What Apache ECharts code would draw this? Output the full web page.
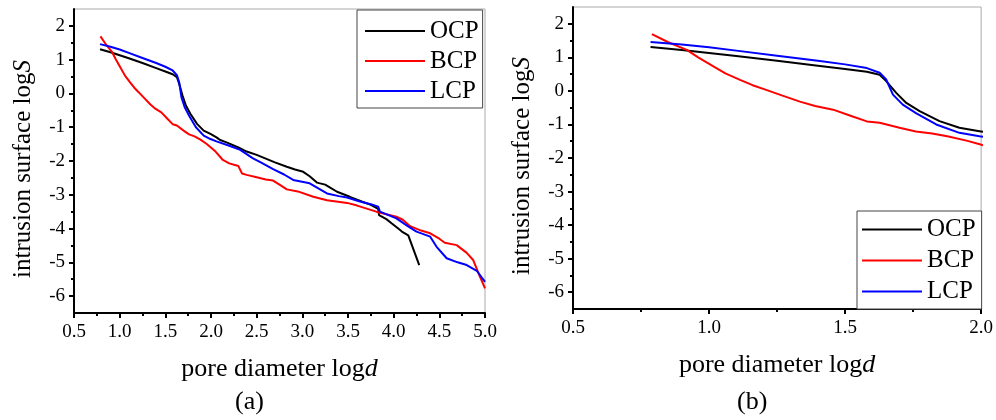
<!DOCTYPE html>
<html>
<head>
<meta charset="utf-8">
<script src="https://cdn.jsdelivr.net/npm/echarts@6/dist/echarts.min.js"></script>
<style>html,body{margin:0;padding:0;background:#fff;}#c{width:996px;height:420px;}</style>
</head>
<body>
<div id="c"></div>
<script>
// ---- data (x = log d, y = log S) ----
const ocpData = [[0.785,1.31],[0.9,1.22],[1.0,1.13],[1.1,1.04],[1.25,0.90],[1.4,0.75],[1.5,0.65],[1.58,0.57],[1.627,0.48],[1.651,0.29],[1.688,-0.06],[1.725,-0.36],[1.774,-0.6],[1.847,-0.9],[1.92,-1.1],[1.994,-1.2],[2.06,-1.3],[2.1,-1.38],[2.17,-1.45],[2.3,-1.6],[2.39,-1.72],[2.5,-1.82],[2.6,-1.93],[2.7,-2.04],[2.83,-2.17],[2.92,-2.25],[3.01,-2.32],[3.08,-2.45],[3.16,-2.64],[3.25,-2.7],[3.3,-2.78],[3.38,-2.91],[3.52,-3.06],[3.65,-3.2],[3.75,-3.3],[3.83,-3.42],[3.84,-3.6],[3.92,-3.72],[3.98,-3.85],[4.05,-4.0],[4.09,-4.09],[4.16,-4.2],[4.28,-5.08]];
const bcpData = [[0.79,1.69],[0.85,1.45],[0.918,1.22],[0.96,1.0],[1.016,0.73],[1.06,0.52],[1.114,0.33],[1.16,0.17],[1.21,0.03],[1.27,-0.14],[1.334,-0.32],[1.39,-0.45],[1.456,-0.56],[1.52,-0.74],[1.58,-0.91],[1.627,-0.95],[1.7,-1.1],[1.76,-1.21],[1.82,-1.27],[1.88,-1.36],[1.95,-1.49],[1.995,-1.59],[2.05,-1.72],[2.13,-1.97],[2.2,-2.07],[2.3,-2.15],[2.34,-2.37],[2.39,-2.41],[2.5,-2.48],[2.6,-2.55],[2.68,-2.58],[2.75,-2.7],[2.83,-2.84],[2.95,-2.9],[3.12,-3.06],[3.27,-3.16],[3.49,-3.24],[3.6,-3.32],[3.81,-3.5],[4.03,-3.65],[4.1,-3.74],[4.18,-3.93],[4.3,-4.06],[4.4,-4.14],[4.5,-4.3],[4.56,-4.42],[4.69,-4.49],[4.8,-4.72],[4.87,-4.93],[4.93,-5.33],[5.0,-5.77]];
const lcpData = [[0.785,1.46],[0.9,1.38],[1.0,1.30],[1.1,1.2],[1.25,1.05],[1.4,0.9],[1.5,0.79],[1.58,0.68],[1.627,0.54],[1.651,0.34],[1.676,-0.11],[1.712,-0.41],[1.762,-0.67],[1.835,-1.0],[1.92,-1.25],[1.994,-1.35],[2.06,-1.42],[2.2,-1.55],[2.32,-1.67],[2.46,-1.92],[2.55,-2.05],[2.68,-2.24],[2.8,-2.4],[2.9,-2.56],[3.08,-2.66],[3.18,-2.82],[3.27,-2.96],[3.4,-3.04],[3.49,-3.08],[3.63,-3.2],[3.75,-3.28],[3.83,-3.35],[3.85,-3.5],[4.03,-3.7],[4.15,-3.92],[4.25,-4.09],[4.4,-4.24],[4.47,-4.54],[4.58,-4.88],[4.7,-5.0],[4.8,-5.08],[4.91,-5.25],[5.0,-5.58]];

const seriesNames = ['OCP','BCP','LCP'];
const seriesColors = ['#000000','#ff0000','#0000ff'];

const xTicksA = [0.5,1.0,1.5,2.0,2.5,3.0,3.5,4.0,4.5,5.0];
const xMinorA = [0.75,1.25,1.75,2.25,2.75,3.25,3.75,4.25,4.75];
const xTicksB = [0.5,1.0,1.5,2.0];
const xMinorB = [0.75,1.25,1.75];
const yTicks = [-6,-5,-4,-3,-2,-1,0,1,2];
const yMinor = [-5.5,-4.5,-3.5,-2.5,-1.5,-0.5,0.5,1.5];

const xTitle = 'pore diameter log{i|d}';
const yTitle = 'intrusion surface log{i|S}';
const panelLabels = ['(a)','(b)'];

// ---- styling ----
const FONT = 'Liberation Serif';
const grids = [
  {left:74, top:9, width:411, height:304, show:true, borderColor:'#aaaaaa', borderWidth:1, backgroundColor:'#fff'},
  {left:573, top:7, width:409, height:302, show:true, borderColor:'#aaaaaa', borderWidth:1, backgroundColor:'#fff'}
];
const xRanges = [[0.5,5.0],[0.5,2.0]];
const xTickSets = [xTicksA, xTicksB];
const xMinorSets = [xMinorA, xMinorB];

const richName = {i:{fontStyle:'italic', fontFamily:FONT, fontSize:26, color:'#000'}};
const richNameY = {i:{fontStyle:'italic', fontFamily:FONT, fontSize:25, color:'#000'}};

const xAxes = [], yAxes = [];
for (let g = 0; g < 2; g++) {
  xAxes.push({
    type:'value', gridIndex:g, position:'bottom', min:xRanges[g][0], max:xRanges[g][1],
    name:xTitle, nameLocation:'middle', nameGap:43,
    nameTextStyle:{fontFamily:FONT, fontSize:26, color:'#000', rich:richName},
    axisLine:{show:true, onZero:false, lineStyle:{color:'#000', width:2}},
    axisTick:{show:true, customValues:xTickSets[g], length:5, lineStyle:{color:'#000', width:2}},
    axisLabel:{show:true, customValues:xTickSets[g], margin:10, fontFamily:FONT, fontSize:19, color:'#000',
      formatter:v => Number(v).toFixed(1)},
    splitLine:{show:false}
  });
  xAxes.push({
    type:'value', gridIndex:g, position:'bottom', min:xRanges[g][0], max:xRanges[g][1],
    axisLine:{show:false, onZero:false},
    axisTick:{show:true, customValues:xMinorSets[g], length:3, lineStyle:{color:'#000', width:2}},
    axisLabel:{show:false}, splitLine:{show:false}
  });
  yAxes.push({
    type:'value', gridIndex:g, position:'left', min:-6.5, max:2.5,
    name:yTitle, nameLocation:'middle', nameGap:38,
    nameTextStyle:{fontFamily:FONT, fontSize:25, color:'#000', rich:richNameY, padding:[0,16,0,0]},
    axisLine:{show:true, onZero:false, lineStyle:{color:'#000', width:2}},
    axisTick:{show:true, customValues:yTicks, length:5, lineStyle:{color:'#000', width:2}},
    axisLabel:{show:true, customValues:yTicks, margin:9, fontFamily:FONT, fontSize:19, color:'#000'},
    splitLine:{show:false}
  });
  yAxes.push({
    type:'value', gridIndex:g, position:'left', min:-6.5, max:2.5,
    axisLine:{show:false, onZero:false},
    axisTick:{show:true, customValues:yMinor, length:3, lineStyle:{color:'#000', width:2}},
    axisLabel:{show:false}, splitLine:{show:false}
  });
}

const dataSets = [ocpData, bcpData, lcpData];
const series = [];
for (let g = 0; g < 2; g++) {
  for (let s = 0; s < 3; s++) {
    series.push({
      name:seriesNames[s], type:'line', xAxisIndex:g*2, yAxisIndex:g*2,
      data:dataSets[s], showSymbol:false, symbol:'none', smooth:false, clip:true,
      color:seriesColors[s], lineStyle:{color:seriesColors[s], width:2},
      animation:false
    });
  }
}

const legendBase = {
  data:seriesNames, orient:'vertical', icon:'rect', itemWidth:60, itemHeight:2, itemGap:0,
  borderColor:'#444', borderWidth:1, backgroundColor:'#fff',
  textStyle:{fontFamily:FONT, fontSize:25, color:'#000'}
};

const option = {
  animation:false,
  backgroundColor:'#fff',
  grid:grids,
  xAxis:xAxes,
  yAxis:yAxes,
  legend:[
    Object.assign({}, legendBase, {left:357, top:10, padding:[6,4,2,8], textStyle:{fontFamily:FONT, fontSize:25, lineHeight:30, color:'#000'}}),
    Object.assign({}, legendBase, {left:857, top:211, padding:[3,6,2,5], textStyle:{fontFamily:FONT, fontSize:25, lineHeight:31, color:'#000'}})
  ],
  graphic:[
    {type:'text', left:250-15, top:389, style:{text:panelLabels[0], font:'26px "Liberation Serif"', fill:'#000'}},
    {type:'text', left:752-15, top:389, style:{text:panelLabels[1], font:'26px "Liberation Serif"', fill:'#000'}}
  ],
  series:series
};

const chart = echarts.init(document.getElementById('c'), null, {renderer:'canvas'});
chart.setOption(option);
</script>
</body>
</html>
